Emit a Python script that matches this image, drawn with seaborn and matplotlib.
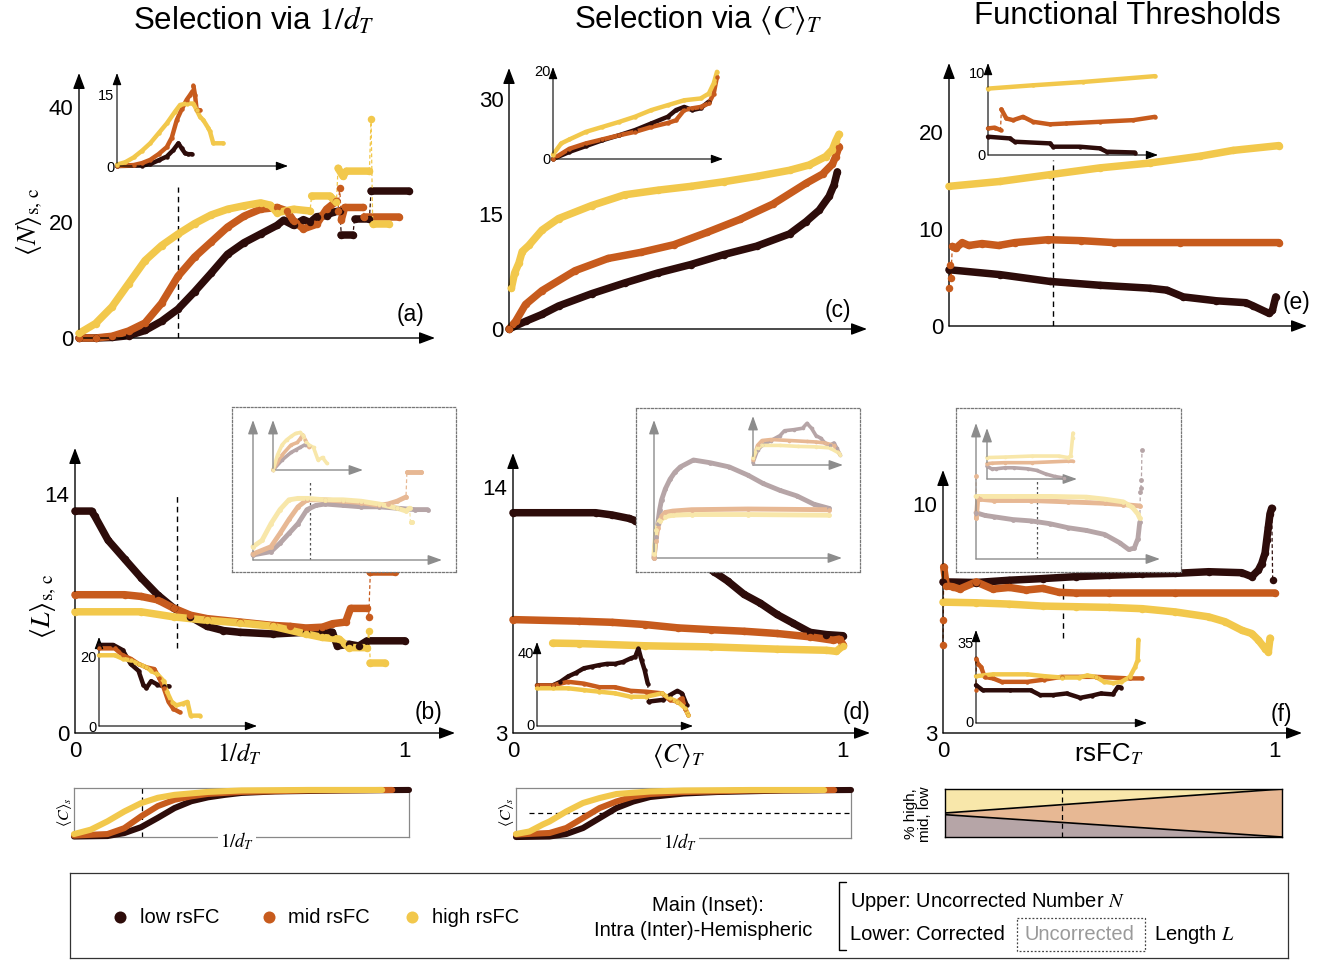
import numpy as np
import pandas as pd
import matplotlib
matplotlib.use("Agg")
import matplotlib.pyplot as plt
import seaborn as sns
from matplotlib.patches import Rectangle

# ---------------------------------------------------------------- data
GROUPS = ["low rsFC", "mid rsFC", "high rsFC"]

# (a) uncorrected number N vs 1/d_T, intra-hemispheric
A_LOW_X = [0, 0.05, 0.1, 0.15, 0.2, 0.25, 0.3, 0.35, 0.4, 0.45, 0.5, 0.55, 0.6, 0.62, 0.65, 0.68, 0.7, 0.72, 0.75, 0.77, 0.79, 0.795, 0.83, 0.835, 0.88, 0.885, 1.0]
A_LOW_Y = [0, 0, 0.1, 0.4, 1.3, 2.9, 5.0, 8.0, 11.2, 14.5, 16.5, 18.0, 19.5, 20.4, 19.5, 20.5, 20.0, 21.0, 21.2, 21.8, 22.0, 17.8, 17.8, 20.6, 20.6, 25.5, 25.5]
A_MID_X = [0, 0.05, 0.1, 0.15, 0.2, 0.25, 0.3, 0.35, 0.4, 0.45, 0.5, 0.55, 0.6, 0.63, 0.65, 0.68, 0.72, 0.75, 0.78, 0.785, 0.79, 0.795, 0.805, 0.86, 0.865, 0.97]
A_MID_Y = [0, 0, 0.3, 1.2, 2.6, 6.0, 10.7, 14.0, 16.6, 19.2, 21.1, 22.3, 22.6, 22.0, 20.3, 18.9, 19.7, 22.3, 23.7, 22.0, 26.0, 20.5, 22.6, 22.6, 20.9, 20.9]
A_HIGH_X = [0, 0.05, 0.1, 0.15, 0.2, 0.25, 0.3, 0.35, 0.4, 0.45, 0.5, 0.55, 0.58, 0.6, 0.65, 0.7, 0.705, 0.76, 0.78, 0.785, 0.8, 0.81, 0.88, 0.885, 0.89, 0.94]
A_HIGH_Y = [0.8, 2.5, 5.4, 9.4, 13.4, 16.0, 18.0, 19.8, 21.3, 22.3, 22.9, 23.4, 23.0, 21.7, 22.3, 22.0, 24.6, 24.6, 23.5, 29.4, 28.0, 28.9, 28.9, 38.0, 19.7, 19.7]
A_SEL = 0.3

# (a) inset: inter-hemispheric
AI_LOW_X = [0, 0.15, 0.2, 0.25, 0.3, 0.34, 0.37, 0.39, 0.41, 0.43, 0.45]
AI_LOW_Y = [0, 0.1, 0.4, 1.2, 2.0, 3.4, 4.8, 3.7, 2.7, 2.5, 2.5]
AI_MID_X = [0, 0.1, 0.15, 0.2, 0.25, 0.3, 0.33, 0.36, 0.39, 0.42, 0.44, 0.455, 0.46, 0.47, 0.48, 0.5]
AI_MID_Y = [0, 0.2, 0.6, 1.3, 2.5, 4.0, 6.0, 9.7, 12.0, 14.0, 15.0, 15.8, 17.0, 15.0, 11.8, 11.8]
AI_HIGH_X = [0, 0.05, 0.1, 0.15, 0.2, 0.25, 0.3, 0.35, 0.38, 0.42, 0.46, 0.48, 0.5, 0.52, 0.55, 0.56, 0.58, 0.64]
AI_HIGH_Y = [0.3, 0.8, 1.8, 3.2, 4.8, 6.9, 9.0, 11.5, 12.9, 13.2, 13.2, 11.8, 10.4, 9.7, 8.0, 7.3, 4.8, 4.8]

# (c) uncorrected number N vs <C>_T
C_LOW_X = [0, 0.05, 0.1, 0.15, 0.25, 0.35, 0.45, 0.55, 0.65, 0.75, 0.85, 0.9, 0.94, 0.97, 0.985, 0.995]
C_LOW_Y = [0, 1.0, 1.9, 3.0, 4.6, 6.0, 7.3, 8.4, 9.7, 10.8, 12.4, 14.0, 15.5, 17.3, 18.8, 20.5]
C_MID_X = [0, 0.02, 0.05, 0.1, 0.2, 0.3, 0.4, 0.5, 0.6, 0.7, 0.8, 0.9, 0.95, 0.98, 0.99, 1.0]
C_MID_Y = [0, 1.0, 3.2, 5.0, 7.6, 9.2, 10.0, 11.0, 12.6, 14.3, 16.3, 19.0, 20.2, 21.5, 22.5, 23.8]
C_HIGH_X = [0.007, 0.017, 0.03, 0.04, 0.06, 0.1, 0.15, 0.25, 0.35, 0.45, 0.55, 0.65, 0.75, 0.85, 0.91, 0.96, 0.98, 0.99, 1.0]
C_HIGH_Y = [5.3, 7.3, 8.6, 10.1, 10.9, 12.9, 14.4, 16.1, 17.5, 18.1, 18.6, 19.2, 19.9, 20.7, 21.4, 22.5, 23.4, 24.5, 25.4]

CI_LOW_X = [0, 0.1, 0.2, 0.3, 0.4, 0.5, 0.6, 0.7, 0.75, 0.8, 0.85, 0.9, 0.95]
CI_LOW_Y = [0, 1.6, 2.9, 4.2, 5.3, 6.5, 8.0, 9.5, 11.0, 11.7, 11.0, 11.4, 12.9]
CI_MID_X = [0, 0.1, 0.2, 0.3, 0.4, 0.5, 0.6, 0.7, 0.75, 0.8, 0.85, 0.9, 0.95, 0.98, 1.0]
CI_MID_Y = [0, 2.3, 3.5, 4.4, 5.3, 6.1, 7.2, 8.1, 8.7, 11.0, 11.4, 11.7, 12.5, 14.7, 18.5]
CI_HIGH_X = [0, 0.05, 0.1, 0.2, 0.3, 0.4, 0.5, 0.6, 0.7, 0.8, 0.9, 0.95, 0.98, 1.0]
CI_HIGH_Y = [1.0, 3.5, 4.4, 6.1, 7.2, 8.3, 9.5, 11.0, 12.1, 13.2, 13.6, 14.7, 17.0, 19.6]

# (e) uncorrected number N vs rsFC_T
E_LOW_X = [0, 0.154, 0.305, 0.457, 0.608, 0.66, 0.71, 0.81, 0.9, 0.92, 0.97, 0.98, 0.99]
E_LOW_Y = [5.8, 5.3, 4.6, 4.2, 3.9, 3.7, 3.0, 2.6, 2.4, 2.1, 1.3, 1.6, 3.0]
E_MID_X = [0, 0.003, 0.006, 0.01, 0.02, 0.04, 0.06, 0.1, 0.15, 0.2, 0.3, 0.4, 0.5, 0.7, 1.0]
E_MID_Y = [3.9, 6.3, 5.0, 8.2, 8.0, 8.6, 8.3, 8.5, 8.3, 8.6, 8.9, 8.8, 8.6, 8.6, 8.6]
E_HIGH_X = [0, 0.154, 0.305, 0.457, 0.608, 0.76, 0.86, 1.0]
E_HIGH_Y = [14.4, 14.9, 15.6, 16.3, 16.8, 17.5, 18.1, 18.6]
E_SEL = 0.315

EI_LOW_X = [0, 0.13, 0.16, 0.37, 0.39, 0.55, 0.67, 0.71, 0.88]
EI_LOW_Y = [2.2, 2.0, 1.6, 1.4, 1.0, 1.0, 0.8, 0.4, 0.3]
EI_MID_X = [0, 0.04, 0.075, 0.08, 0.11, 0.15, 0.21, 0.27, 0.37, 0.47, 0.67, 0.87, 1.0]
EI_MID_Y = [3.2, 3.3, 3.0, 5.5, 4.4, 4.2, 4.6, 4.0, 3.7, 3.8, 4.0, 4.2, 4.6]
EI_HIGH_X = [0, 0.27, 0.57, 1.0]
EI_HIGH_Y = [8.0, 8.4, 8.8, 9.5]

# (b) corrected length L vs 1/d_T
B_LOW_X = [0, 0.05, 0.06, 0.1, 0.15, 0.2, 0.25, 0.3, 0.35, 0.4, 0.45, 0.5, 0.6, 0.7, 0.75, 0.78, 0.795, 0.83, 0.86, 0.885, 1.0]
B_LOW_Y = [13.0, 13.0, 12.7, 11.3, 10.2, 9.1, 8.1, 7.3, 6.8, 6.25, 6.0, 5.9, 5.8, 5.9, 6.0, 5.9, 5.1, 5.2, 5.1, 5.4, 5.4]
B_MID_X = [0, 0.15, 0.2, 0.25, 0.3, 0.35, 0.4, 0.5, 0.6, 0.65, 0.7, 0.75, 0.78, 0.82, 0.835, 0.885, 0.89, 0.895, 0.97]
B_MID_Y = [8.1, 8.1, 8.0, 7.8, 7.3, 6.9, 6.7, 6.5, 6.3, 6.25, 6.15, 6.2, 6.4, 6.5, 7.3, 7.3, 6.8, 9.45, 9.45]
B_HIGH_X = [0, 0.2, 0.3, 0.4, 0.5, 0.6, 0.7, 0.75, 0.8, 0.83, 0.885, 0.89, 0.895, 0.94]
B_HIGH_Y = [7.1, 7.1, 6.8, 6.6, 6.45, 6.25, 5.8, 5.6, 5.5, 5.0, 5.0, 6.0, 4.1, 4.1]
B_SEL = 0.31

BI_LOW_X = [0, 0.09, 0.15, 0.2, 0.25, 0.28, 0.3, 0.33, 0.37, 0.41, 0.44]
BI_LOW_Y = [23.5, 23.5, 22.0, 18.0, 16.0, 12.0, 11.0, 13.0, 12.0, 11.5, 11.5]
BI_MID_X = [0, 0.1, 0.15, 0.2, 0.25, 0.3, 0.35, 0.38, 0.41, 0.44, 0.47, 0.51]
BI_MID_Y = [22.5, 22.5, 20.5, 19.5, 18.0, 17.0, 16.5, 14.0, 11.0, 7.0, 5.0, 4.0]
BI_HIGH_X = [0, 0.1, 0.15, 0.2, 0.25, 0.3, 0.33, 0.37, 0.41, 0.43, 0.46, 0.49, 0.53, 0.56, 0.58, 0.64]
BI_HIGH_Y = [20.5, 20.5, 19.5, 19.0, 18.0, 17.0, 16.0, 15.0, 13.0, 10.0, 7.0, 6.0, 6.5, 7.0, 3.0, 3.0]

# (b) uncorrected length (normalised), main and inset
BU_LOW_X = [0, 0.1, 0.15, 0.2, 0.25, 0.3, 0.35, 0.4, 0.5, 0.6, 0.7, 0.8, 0.9, 0.97]
BU_LOW_Y = [0.036, 0.06, 0.12, 0.19, 0.26, 0.36, 0.39, 0.40, 0.39, 0.38, 0.38, 0.37, 0.36, 0.36]
BU_MID_X = [0, 0.1, 0.15, 0.2, 0.25, 0.3, 0.4, 0.5, 0.6, 0.7, 0.75, 0.8, 0.85, 0.855, 0.935]
BU_MID_Y = [0.043, 0.095, 0.19, 0.29, 0.38, 0.43, 0.43, 0.42, 0.41, 0.39, 0.40, 0.42, 0.45, 0.63, 0.63]
BU_HIGH_X = [0, 0.05, 0.1, 0.15, 0.2, 0.25, 0.3, 0.4, 0.5, 0.6, 0.7, 0.8, 0.85, 0.87, 0.875, 0.885]
BU_HIGH_Y = [0.095, 0.14, 0.26, 0.36, 0.43, 0.44, 0.44, 0.43, 0.43, 0.42, 0.40, 0.37, 0.35, 0.37, 0.27, 0.27]
BUI_LOW_X = [0, 0.1, 0.2, 0.25, 0.3, 0.35, 0.4]
BUI_LOW_Y = [0, 0.2, 0.35, 0.4, 0.45, 0.5, 0.48]
BUI_MID_X = [0, 0.1, 0.2, 0.27, 0.3, 0.33, 0.36, 0.4]
BUI_MID_Y = [0, 0.3, 0.5, 0.55, 0.62, 0.7, 0.6, 0.45]
BUI_HIGH_X = [0, 0.05, 0.1, 0.15, 0.2, 0.25, 0.3, 0.33, 0.37, 0.4, 0.45, 0.5, 0.55, 0.6]
BUI_HIGH_Y = [0, 0.3, 0.5, 0.6, 0.67, 0.73, 0.75, 0.7, 0.55, 0.5, 0.45, 0.2, 0.25, 0.13]

# (d) corrected length L vs <C>_T
D_LOW_X = [0, 0.25, 0.3, 0.35, 0.37, 0.61, 0.65, 0.7, 0.75, 0.8, 0.85, 0.9, 0.95, 1.0]
D_LOW_Y = [12.85, 12.85, 12.75, 12.6, 12.5, 10.2, 9.8, 9.2, 8.8, 8.3, 7.9, 7.5, 7.4, 7.35]
D_MID_X = [0, 0.2, 0.3, 0.4, 0.5, 0.6, 0.7, 0.8, 0.9, 0.97, 0.99, 1.0]
D_MID_Y = [8.07, 8.0, 7.95, 7.85, 7.7, 7.62, 7.55, 7.45, 7.3, 7.15, 7.2, 6.95]
D_HIGH_X = [0.12, 0.2, 0.4, 0.6, 0.8, 0.95, 0.98, 1.0]
D_HIGH_Y = [7.02, 7.0, 6.9, 6.85, 6.75, 6.7, 6.65, 6.9]

DI_LOW_X = [0, 0.1, 0.15, 0.2, 0.25, 0.3, 0.35, 0.4, 0.45, 0.5, 0.55, 0.6, 0.63, 0.65, 0.67, 0.69, 0.71, 0.715, 0.81, 0.85, 0.9, 0.93, 0.96]
DI_LOW_Y = [22, 22, 24, 27, 29, 31.5, 32.4, 33.3, 34, 34, 35, 37, 38, 42.5, 36, 30.5, 23, 13, 14, 16.5, 19, 17.5, 11]
DI_MID_X = [0, 0.1, 0.2, 0.3, 0.4, 0.5, 0.6, 0.7, 0.8, 0.85, 0.9, 0.93, 0.95, 0.97]
DI_MID_Y = [22, 22, 24, 23, 21, 21, 19, 18.5, 17.6, 14, 13, 15, 9, 5.5]
DI_HIGH_X = [0, 0.1, 0.2, 0.3, 0.4, 0.5, 0.6, 0.7, 0.8, 0.85, 0.9, 0.95, 0.97]
DI_HIGH_Y = [20.4, 20.4, 20.4, 19.4, 18.5, 17.6, 15.7, 15.7, 17.6, 14.8, 13, 9.3, 5.5]

DU_LOW_X = [0, 0.01, 0.02, 0.03, 0.04, 0.06, 0.085, 0.11, 0.14, 0.21, 0.3, 0.4, 0.5, 0.58, 0.67, 0.76, 0.85, 0.93]
DU_LOW_Y = [0.0, 0.15, 0.25, 0.35, 0.42, 0.5, 0.57, 0.62, 0.66, 0.71, 0.69, 0.66, 0.6, 0.54, 0.49, 0.45, 0.39, 0.36]
DU_MID_X = [0, 0.01, 0.02, 0.04, 0.06, 0.1, 0.2, 0.5, 0.93]
DU_MID_Y = [0, 0.12, 0.22, 0.3, 0.33, 0.34, 0.35, 0.355, 0.35]
DU_HIGH_X = [0, 0.01, 0.03, 0.06, 0.1, 0.2, 0.5, 0.93]
DU_HIGH_Y = [0.03, 0.2, 0.27, 0.3, 0.31, 0.315, 0.315, 0.31]
DUI_LOW_X = [0, 0.05, 0.1, 0.2, 0.3, 0.35, 0.45, 0.55, 0.6, 0.65, 0.7, 0.75, 0.8, 0.85, 0.9, 0.93, 0.97]
DUI_LOW_Y = [0.05, 0.3, 0.4, 0.5, 0.6, 0.7, 0.72, 0.75, 0.85, 0.75, 0.6, 0.55, 0.45, 0.4, 0.45, 0.35, 0.2]
DUI_MID_X = [0, 0.05, 0.1, 0.2, 0.4, 0.6, 0.7, 0.8, 0.9, 0.95]
DUI_MID_Y = [0.1, 0.4, 0.5, 0.52, 0.5, 0.48, 0.47, 0.45, 0.4, 0.25]
DUI_HIGH_X = [0, 0.05, 0.1, 0.3, 0.5, 0.7, 0.85, 0.95, 0.97]
DUI_HIGH_Y = [0.15, 0.35, 0.4, 0.4, 0.38, 0.37, 0.35, 0.25, 0.2]

# (f) corrected length L vs rsFC_T
F_LOW_X = [0, 0.1, 0.2, 0.3, 0.4, 0.5, 0.6, 0.7, 0.8, 0.9, 0.93, 0.95, 0.96, 0.97, 0.975, 0.98, 0.985, 0.99, 0.993]
F_LOW_Y = [7.62, 7.6, 7.67, 7.72, 7.78, 7.82, 7.86, 7.88, 7.93, 7.9, 7.78, 7.98, 8.18, 8.5, 8.9, 9.3, 9.7, 9.87, 7.67]
F_MID_X = [0, 0.001, 0.002, 0.01, 0.03, 0.05, 0.1, 0.15, 0.2, 0.25, 0.3, 0.35, 0.4, 0.5, 0.7, 1.0]
F_MID_Y = [5.7, 6.45, 8.08, 7.5, 7.47, 7.4, 7.62, 7.4, 7.45, 7.37, 7.42, 7.3, 7.28, 7.28, 7.28, 7.28]
F_HIGH_X = [0, 0.1, 0.2, 0.3, 0.4, 0.5, 0.6, 0.7, 0.8, 0.85, 0.9, 0.93, 0.95, 0.97, 0.98, 0.985]
F_HIGH_Y = [7.0, 6.98, 6.94, 6.88, 6.86, 6.84, 6.8, 6.7, 6.55, 6.4, 6.14, 6.04, 5.84, 5.58, 5.48, 5.9]
F_SEL = 0.36

FI_LOW_X = [0, 0.04, 0.2, 0.32, 0.375, 0.45, 0.53, 0.61, 0.68, 0.73, 0.8, 0.83, 0.85]
FI_LOW_Y = [16, 13.8, 13.8, 13.8, 11.7, 11.7, 12.4, 10.5, 11.5, 12.4, 12.0, 15.3, 15.0]
FI_MID_X = [0, 0.002, 0.01, 0.03, 0.05, 0.1, 0.15, 0.3, 0.4, 0.5, 0.7, 0.9, 0.97]
FI_MID_Y = [13.8, 27.7, 25.5, 24.0, 19.7, 19.0, 17.5, 17.5, 18.5, 19.7, 19.7, 19.0, 19.0]
FI_HIGH_X = [0, 0.1, 0.3, 0.4, 0.5, 0.6, 0.65, 0.7, 0.75, 0.8, 0.85, 0.9, 0.93, 0.945, 0.95]
FI_HIGH_Y = [20, 20.8, 20.8, 20.0, 19.4, 19.4, 20.3, 19.7, 17.5, 17.0, 17.5, 19.7, 24, 27, 36]

FU_LOW_X = [0, 0.05, 0.1, 0.2, 0.3, 0.4, 0.5, 0.6, 0.7, 0.78, 0.83, 0.86, 0.88, 0.89, 0.893, 0.896, 0.899, 0.902]
FU_LOW_Y = [0.34, 0.32, 0.31, 0.29, 0.28, 0.26, 0.23, 0.21, 0.18, 0.12, 0.07, 0.08, 0.15, 0.27, 0.49, 0.52, 0.58, 0.8]
FU_MID_X = [0, 0.002, 0.01, 0.02, 0.1, 0.3, 0.5, 0.7, 0.8, 0.89]
FU_MID_Y = [0.61, 0.3, 0.45, 0.44, 0.43, 0.43, 0.42, 0.41, 0.4, 0.39]
FU_HIGH_X = [0, 0.2, 0.4, 0.6, 0.7, 0.8, 0.85, 0.88, 0.89]
FU_HIGH_Y = [0.46, 0.46, 0.46, 0.455, 0.44, 0.42, 0.38, 0.33, 0.3]
FUI_LOW_X = [0, 0.05, 0.1, 0.2, 0.3, 0.45, 0.55, 0.65, 0.75, 0.85]
FUI_LOW_Y = [0.25, 0.2, 0.2, 0.22, 0.22, 0.2, 0.17, 0.1, 0.05, 0.02]
FUI_MID_X = [0, 0.05, 0.2, 0.5, 0.9, 0.95]
FUI_MID_Y = [0.3, 0.31, 0.32, 0.32, 0.35, 0.35]
FUI_HIGH_X = [0, 0.2, 0.5, 0.8, 0.9, 0.93, 0.95, 0.955]
FUI_HIGH_Y = [0.42, 0.43, 0.45, 0.45, 0.42, 0.45, 0.8, 0.9]

# mean strength <C>_s vs 1/d_T (normalised) below (a,b) and (c,d)
S1_LOW_X = [0, 0.1, 0.15, 0.2, 0.25, 0.3, 0.35, 0.4, 0.45, 0.5, 0.6, 0.8, 1.0]
S1_LOW_Y = [0.01, 0.02, 0.08, 0.2, 0.39, 0.59, 0.73, 0.81, 0.86, 0.9, 0.93, 0.95, 0.96]
S1_MID_X = [0, 0.1, 0.15, 0.2, 0.25, 0.3, 0.35, 0.4, 0.5, 0.7, 0.95]
S1_MID_Y = [0.03, 0.06, 0.18, 0.42, 0.63, 0.76, 0.83, 0.88, 0.92, 0.95, 0.96]
S1_HIGH_X = [0, 0.05, 0.1, 0.15, 0.2, 0.25, 0.3, 0.4, 0.5, 0.7, 0.92]
S1_HIGH_Y = [0.06, 0.15, 0.32, 0.52, 0.69, 0.8, 0.86, 0.92, 0.95, 0.96, 0.96]
S1_SEL = 0.203

S2_LOW_X = [0, 0.1, 0.15, 0.2, 0.25, 0.3, 0.35, 0.4, 0.5, 0.6, 0.8, 1.0]
S2_LOW_Y = [0.02, 0.03, 0.08, 0.2, 0.4, 0.6, 0.73, 0.82, 0.89, 0.92, 0.95, 0.96]
S2_MID_X = [0, 0.1, 0.15, 0.2, 0.25, 0.3, 0.35, 0.4, 0.5, 0.7, 0.95]
S2_MID_Y = [0.07, 0.1, 0.2, 0.4, 0.6, 0.73, 0.83, 0.88, 0.92, 0.95, 0.96]
S2_HIGH_X = [0, 0.04, 0.08, 0.1, 0.15, 0.2, 0.25, 0.3, 0.4, 0.5, 0.7, 0.92]
S2_HIGH_Y = [0.08, 0.13, 0.27, 0.33, 0.53, 0.7, 0.8, 0.88, 0.93, 0.95, 0.96, 0.96]
S2_LEVEL = 0.5

# share of high / mid / low rsFC edges vs rsFC_T
PCT_X = [0, 1]
PCT_LOW = [0.465, 0.0]
PCT_MID = [0.035, 1.0]
PCT_HIGH = [0.5, 0.0]
PCT_SEL = 0.347

# ---------------------------------------------------------------- style
sns.set_theme(style="white", rc={
    "text.color": "black", "axes.labelcolor": "black",
    "xtick.color": "black", "ytick.color": "black",
    "axes.facecolor": "white", "figure.facecolor": "white",
})
plt.rcParams["font.family"] = ["Liberation Sans", "DejaVu Sans"]
plt.rcParams["mathtext.fontset"] = "stix"

COL = {"low": "#2d0c0a", "mid": "#c75b1d", "high": "#f2c84c"}
FADE = {"low": "#b6a5a7", "mid": "#e7b894", "high": "#f8e7aa"}
GREY = "#8c8c8c"
TICK_SIZE = 16
INSET_TICK_SIZE = 10.5

W, H = 1323, 960
fig = plt.figure(figsize=(W / 100, H / 100), dpi=100)


def px_axes(box):
    l, t, r, b = box
    ax = fig.add_axes([l / W, 1 - b / H, (r - l) / W, (b - t) / H])
    ax.patch.set_alpha(0)
    return ax


def set_limits(ax, box, xref, yref):
    l, t, r, b = box
    (p0, v0), (p1, v1) = xref
    k = (v1 - v0) / (p1 - p0)
    ax.set_xlim(v0 + (l - p0) * k, v0 + (r - p0) * k)
    (q0, w0), (q1, w1) = yref
    k = (w1 - w0) / (q1 - q0)
    ax.set_ylim(w0 + (b - q0) * k, w0 + (t - q0) * k)


def draw_series(ax, xs, ys, color, lw, jump=0.008, z=3, dots=True):
    x = np.asarray(xs, float)
    y = np.asarray(ys, float)
    seg = np.concatenate([[0], np.cumsum(np.diff(x) < jump)])
    df = pd.DataFrame({"x": x, "y": y, "seg": seg})
    ax.plot(x, y, ls=(0, (3, 2)), lw=0.9, color=color, zorder=z, clip_on=False)
    sns.lineplot(data=df, x="x", y="y", units="seg", estimator=None, color=color,
                 lw=lw, ax=ax, legend=False, solid_capstyle="round", zorder=z,
                 clip_on=False)
    if dots:
        sns.scatterplot(data=df, x="x", y="y", color=color, s=lw ** 2,
                        linewidth=0, ax=ax, legend=False, zorder=z + 0.1, clip_on=False)
    ax.set(xlabel="", ylabel="")


def draw_three(ax, low, mid, high, palette, lw, jump=0.008, dots=True):
    draw_series(ax, *low, palette["low"], lw, jump, dots=dots)
    draw_series(ax, *mid, palette["mid"], lw, jump, dots=dots)
    draw_series(ax, *high, palette["high"], lw, jump, dots=dots)


def arrow_axes(ax, color="black", lw=1.0, hl=0.8, hw=0.3):
    for s in ax.spines.values():
        s.set_visible(False)
    for end in [(1, 0), (0, 1)]:
        ax.annotate("", xy=end, xytext=(0, 0), xycoords="axes fraction",
                    textcoords="axes fraction", annotation_clip=False,
                    arrowprops=dict(arrowstyle=f"-|>,head_length={hl},head_width={hw}",
                                    color=color, lw=lw, shrinkA=0, shrinkB=0))


def set_ticks(ax, xt=(), yt=(), xl=None, yl=None, size=TICK_SIZE, length=4, xminor=(),
              ypad=4, xpad=6):
    ax.set_xticks(list(xt))
    ax.set_yticks(list(yt))
    ax.set_xticks(list(xminor), minor=True)
    ax.set_yticks([], minor=True)
    ax.tick_params(which="both", direction="in", length=length, width=0.8,
                   labelsize=size, colors="black")
    ax.tick_params(axis="y", pad=ypad)
    ax.tick_params(axis="x", pad=xpad)
    if xl is None:
        ax.tick_params(axis="x", labelbottom=False)
    else:
        ax.set_xticklabels(xl)
    if yl is None:
        ax.tick_params(axis="y", labelleft=False)
    else:
        ax.set_yticklabels(yl)
    ax.grid(False)


def ftext(x, y, s, **kw):
    kw.setdefault("ha", "center")
    kw.setdefault("va", "center")
    return fig.text(x / W, 1 - y / H, s, **kw)


def dashed_v(ax, x, y0, y1, color="black", lw=1.0, ls=(0, (4, 3))):
    ax.plot([x, x], [y0, y1], color=color, lw=lw, ls=ls, zorder=2)


def main_panel(box, xref, yref, low, mid, high, lw=5.4, jump=0.008):
    ax = px_axes(box)
    draw_three(ax, low, mid, high, COL, lw, jump)
    set_limits(ax, box, xref, yref)
    arrow_axes(ax)
    return ax


def small_panel(box, xref, yref, low, mid, high, lw=3.2, jump=0.008):
    ax = px_axes(box)
    draw_three(ax, low, mid, high, COL, lw, jump)
    set_limits(ax, box, xref, yref)
    arrow_axes(ax, lw=0.8, hl=0.6, hw=0.22)
    return ax


def faded_box(frame, big, small, bl, bm, bh, sl, sm, sh, jump=0.008):
    fr = px_axes(frame)
    fr.patch.set_alpha(1)
    fr.set_facecolor("white")
    fr.set_xticks([])
    fr.set_yticks([])
    for s in fr.spines.values():
        s.set_visible(True)
        s.set_linestyle((0, (1.5, 1.5)))
        s.set_color("#777777")
        s.set_linewidth(0.9)
    out = []
    for (box, xref, yref), l, m, h, lw in [(big, bl, bm, bh, 3.5), (small, sl, sm, sh, 2.6)]:
        ax = px_axes(box)
        draw_three(ax, l, m, h, FADE, lw, jump)
        set_limits(ax, box, xref, yref)
        arrow_axes(ax, color=GREY, lw=1.0, hl=0.7, hw=0.25)
        ax.set_xticks([])
        ax.set_yticks([])
        out.append(ax)
    return out


# ---------------------------------------------------------------- top row
ax = main_panel((79, 73, 435, 338), ((79, 0), (409, 1)), ((338, 0), (107, 40)),
                (A_LOW_X, A_LOW_Y), (A_MID_X, A_MID_Y), (A_HIGH_X, A_HIGH_Y))
dashed_v(ax, A_SEL, 0, 26.1)
set_ticks(ax, xt=[0.5, 1], yt=[0, 20, 40], yl=["0", "20", "40"])

ax = small_panel((117, 73, 288, 166), ((117, 0), (283, 1)), ((166, 0), (95, 15)),
                 (AI_LOW_X, AI_LOW_Y), (AI_MID_X, AI_MID_Y), (AI_HIGH_X, AI_HIGH_Y))
set_ticks(ax, xt=[0.3], yt=[0, 15], yl=["0", "15"], size=INSET_TICK_SIZE, length=2.5, ypad=2)

ax = main_panel((509, 68, 867, 329), ((509, 0), (839, 1)), ((329, 0), (99, 30)),
                (C_LOW_X, C_LOW_Y), (C_MID_X, C_MID_Y), (C_HIGH_X, C_HIGH_Y))
set_ticks(ax, xt=[0.5, 1], yt=[0, 15, 30], yl=["0", "15", "30"])

ax = small_panel((553, 67, 723, 159), ((553, 0), (717, 1)), ((159, 0), (70, 20)),
                 (CI_LOW_X, CI_LOW_Y), (CI_MID_X, CI_MID_Y), (CI_HIGH_X, CI_HIGH_Y))
set_ticks(ax, yt=[0, 20], yl=["0", "20"], size=INSET_TICK_SIZE, length=2.5, ypad=2)

ax = main_panel((949, 63, 1307, 326), ((949, 0), (1279, 1)), ((326, 0), (132, 20)),
                (E_LOW_X, E_LOW_Y), (E_MID_X, E_MID_Y), (E_HIGH_X, E_HIGH_Y))
dashed_v(ax, E_SEL, 0, 17.1)
set_ticks(ax, xt=[0.5, 1], yt=[0, 10, 20], yl=["0", "10", "20"])

ax = small_panel((988, 63, 1158, 155), ((988, 0), (1155, 1)), ((155, 0), (72, 10)),
                 (EI_LOW_X, EI_LOW_Y), (EI_MID_X, EI_MID_Y), (EI_HIGH_X, EI_HIGH_Y))
set_ticks(ax, yt=[0, 10], yl=["0", "10"], size=INSET_TICK_SIZE, length=2.5, ypad=2)

# ---------------------------------------------------------------- bottom row
ax = main_panel((75, 448, 455, 733), ((75, 0), (405, 1)), ((733, 0), (494, 14)),
                (B_LOW_X, B_LOW_Y), (B_MID_X, B_MID_Y), (B_HIGH_X, B_HIGH_Y))
dashed_v(ax, B_SEL, 5.0, 14.0)
set_ticks(ax, xt=[0, 0.5, 1], xl=["0", r"$1/d_T$", "1"], yt=[0, 14], yl=["0", "14"],
          xminor=[B_SEL])
ax.get_xticklabels()[1].set_fontsize(18)

ax = small_panel((99, 637, 257, 726), ((99, 0), (257, 1)), ((726, 0), (657, 20)),
                 (BI_LOW_X, BI_LOW_Y), (BI_MID_X, BI_MID_Y), (BI_HIGH_X, BI_HIGH_Y))
set_ticks(ax, yt=[0, 20], yl=["0", "20"], size=INSET_TICK_SIZE, length=2.5, ypad=2)

big, small = faded_box((232, 407, 456, 572),
                       ((253, 420, 442, 560), ((253, 0), (433, 1)), ((560, 0), (420, 1))),
                       ((273, 420, 363, 470), ((273, 0), (363, 1)), ((470, 0), (420, 1))),
                       (BU_LOW_X, BU_LOW_Y), (BU_MID_X, BU_MID_Y), (BU_HIGH_X, BU_HIGH_Y),
                       (BUI_LOW_X, BUI_LOW_Y), (BUI_MID_X, BUI_MID_Y), (BUI_HIGH_X, BUI_HIGH_Y))
dashed_v(big, 0.317, 0, 0.57, color="#555555", lw=0.9, ls=(0, (2, 2)))

ax = main_panel((513, 453, 870, 733), ((513, 0), (843, 1)), ((733, 3), (487, 14)),
                (D_LOW_X, D_LOW_Y), (D_MID_X, D_MID_Y), (D_HIGH_X, D_HIGH_Y))
set_ticks(ax, xt=[0, 0.5, 1], xl=["0", r"$\langle C\rangle_T$", "1"], yt=[3, 14],
          yl=["3", "14"])
ax.get_xticklabels()[1].set_fontsize(19)

ax = small_panel((537, 642, 693, 726), ((537, 0), (693, 1)), ((725, 0), (653, 40)),
                 (DI_LOW_X, DI_LOW_Y), (DI_MID_X, DI_MID_Y), (DI_HIGH_X, DI_HIGH_Y))
set_ticks(ax, yt=[0, 40], yl=["0", "40"], size=INSET_TICK_SIZE, length=2.5, ypad=2)

faded_box((636, 408, 860, 572),
          ((654, 420, 842, 558), ((654, 0), (842, 1)), ((558, 0), (420, 1))),
          ((753, 416, 843, 465), ((753, 0), (843, 1)), ((465, 0), (416, 1))),
          (DU_LOW_X, DU_LOW_Y), (DU_MID_X, DU_MID_Y), (DU_HIGH_X, DU_HIGH_Y),
          (DUI_LOW_X, DUI_LOW_Y), (DUI_MID_X, DUI_MID_Y), (DUI_HIGH_X, DUI_HIGH_Y))

ax = main_panel((943, 470, 1302, 733), ((943, 0), (1275, 1)), ((733, 3), (504, 10)),
                (F_LOW_X, F_LOW_Y), (F_MID_X, F_MID_Y), (F_HIGH_X, F_HIGH_Y), jump=0.004)
dashed_v(ax, F_SEL, 5.9, 7.9)
set_ticks(ax, xt=[0, 0.5, 1], xl=["0", r"rsFC$_T$", "1"], yt=[3, 10], yl=["3", "10"],
          xminor=[F_SEL])
ax.get_xticklabels()[1].set_fontsize(18.5)

ax = small_panel((976, 630, 1147, 723), ((976, 0), (1147, 1)), ((721.7, 0), (642, 35)),
                 (FI_LOW_X, FI_LOW_Y), (FI_MID_X, FI_MID_Y), (FI_HIGH_X, FI_HIGH_Y),
                 jump=0.004)
set_ticks(ax, yt=[0, 35], yl=["0", "35"], size=INSET_TICK_SIZE, length=2.5, ypad=2)

big, small = faded_box((956, 408, 1181, 572),
                       ((976, 423, 1160, 559), ((976, 0), (1160, 1)), ((559, 0), (423, 1))),
                       ((987, 428, 1077, 479), ((987, 0), (1077, 1)), ((479, 0), (428, 1))),
                       (FU_LOW_X, FU_LOW_Y), (FU_MID_X, FU_MID_Y), (FU_HIGH_X, FU_HIGH_Y),
                       (FUI_LOW_X, FUI_LOW_Y), (FUI_MID_X, FUI_MID_Y), (FUI_HIGH_X, FUI_HIGH_Y),
                       jump=0.004)
dashed_v(big, 0.33, 0, 0.57, color="#555555", lw=0.9, ls=(0, (2, 2)))

# ---------------------------------------------------------------- strips
def strip(box, low, mid, high):
    ax = px_axes(box)
    draw_three(ax, low, mid, high, COL, 4.4, dots=False)
    ax.set_xlim(0, 1)
    ax.set_ylim(0, 1)
    ax.set_xticks([])
    ax.set_yticks([])
    for s in ax.spines.values():
        s.set_visible(True)
        s.set_color("#888888")
        s.set_linewidth(0.9)
    return ax


ax = strip((74, 788, 409, 837), (S1_LOW_X, S1_LOW_Y), (S1_MID_X, S1_MID_Y),
           (S1_HIGH_X, S1_HIGH_Y))
dashed_v(ax, S1_SEL, 0, 1, lw=0.9)
ftext(237, 841, r"$1/d_T$", fontsize=13.5, bbox=dict(fc="white", ec="none", pad=1.5))
ftext(64, 812, r"$\langle C\rangle_s$", fontsize=11.5, rotation=90)

ax = strip((516, 788, 851, 838), (S2_LOW_X, S2_LOW_Y), (S2_MID_X, S2_MID_Y),
           (S2_HIGH_X, S2_HIGH_Y))
ax.plot([0.04, 1], [S2_LEVEL, S2_LEVEL], color="black", lw=0.9, ls=(0, (4, 3)), zorder=1)
ftext(680, 842, r"$1/d_T$", fontsize=13.5, bbox=dict(fc="white", ec="none", pad=1.5))
ftext(507, 812, r"$\langle C\rangle_s$", fontsize=11.5, rotation=90)

ax = px_axes((945, 789, 1282, 837))
px = np.asarray(PCT_X, float)
lo = np.asarray(PCT_LOW, float)
up = lo + np.asarray(PCT_MID, float)
ax.fill_between(px, 0, lo, color=FADE["low"], lw=0)
ax.fill_between(px, lo, up, color=FADE["mid"], lw=0)
ax.fill_between(px, up, up + np.asarray(PCT_HIGH, float), color=FADE["high"], lw=0)
sns.lineplot(x=px, y=lo, color="black", lw=1.2, ax=ax)
sns.lineplot(x=px, y=up, color="black", lw=1.2, ax=ax)
dashed_v(ax, PCT_SEL, 0, 1, lw=0.9)
ax.set_xlim(0, 1)
ax.set_ylim(0, 1)
ax.set_xticks([])
ax.set_yticks([])
for s in ax.spines.values():
    s.set_visible(True)
    s.set_color("black")
    s.set_linewidth(1.0)
ftext(918, 814, "% high,\nmid, low", fontsize=11, rotation=90, linespacing=1.0)

# ---------------------------------------------------------------- titles & labels
ftext(254, 21, r"Selection via $1/d_T$", fontsize=22.5)
ftext(698, 20, r"Selection via $\langle C\rangle_T$", fontsize=22.5)
ftext(1127, 16, "Functional Thresholds", fontsize=22.5)

ftext(30, 222, r"$\langle N\rangle_{\mathrm{s,\,c}}$", fontsize=20, rotation=90)
ftext(44, 606, r"$\langle L\rangle_{\mathrm{s,\,c}}$", fontsize=20, rotation=90)

for lab, x, y in [("(a)", 410, 315), ("(c)", 838, 310), ("(e)", 1296, 302),
                  ("(b)", 428, 712), ("(d)", 856, 713), ("(f)", 1281, 714)]:
    ftext(x, y, lab, fontsize=16.5)

# ---------------------------------------------------------------- legend
lg = px_axes((70, 873, 1288, 958))
lg.set_xlim(70, 1288)
lg.set_ylim(958, 873)
lg.set_xticks([])
lg.set_yticks([])
for s in lg.spines.values():
    s.set_visible(True)
    s.set_color("#333333")
    s.set_linewidth(0.9)
for name, key, dx, tx in zip(GROUPS, ["low", "mid", "high"], [120, 269, 412], [140, 288, 432]):
    lg.scatter([dx], [917], s=75, color=COL[key], linewidth=0)
    lg.text(tx, 917, name, ha="left", va="center", fontsize=14.5)
lg.text(708, 905, "Main (Inset):", ha="center", va="center", fontsize=14.5)
lg.text(703, 930, "Intra (Inter)-Hemispheric", ha="center", va="center", fontsize=14.5)
lg.plot([846, 839, 839, 846], [882, 882, 950, 950], color="black", lw=1.0)
lg.text(850, 901, r"Upper: Uncorrected Number $N$", ha="left", va="center", fontsize=14.5)
lg.text(850, 934, "Lower: Corrected", ha="left", va="center", fontsize=14.5)
lg.text(1024, 934, "Uncorrected", ha="left", va="center", fontsize=14.5, color="#9a9a9a")
lg.add_patch(Rectangle((1017, 918), 128, 33, fill=False, ec="#444444", lw=0.9,
                       ls=(0, (1.5, 1.5))))
lg.text(1154, 934, r"Length $L$", ha="left", va="center", fontsize=14.5)

fig.savefig("out.png", dpi=100, facecolor="white")
